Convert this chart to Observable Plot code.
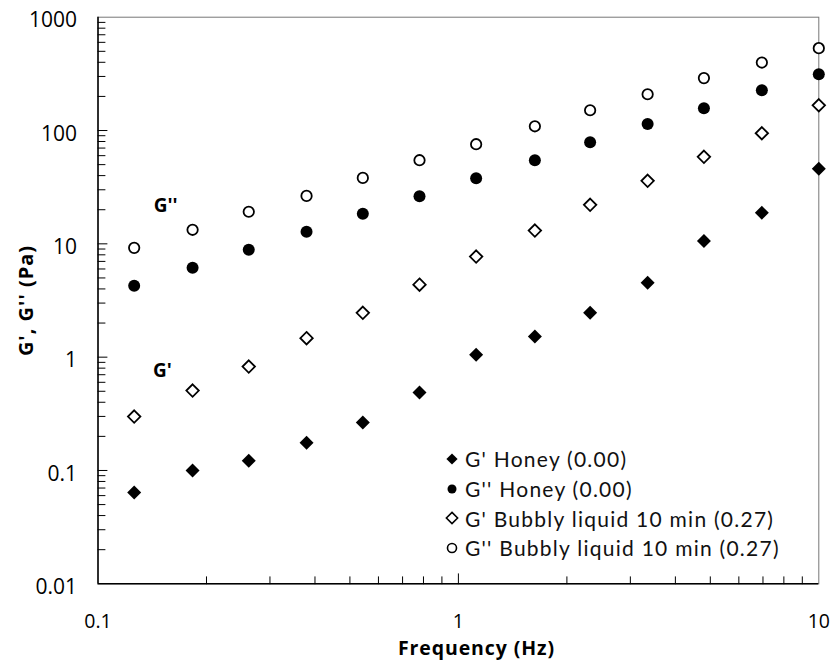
<!DOCTYPE html>
<html>
<head>
<meta charset="utf-8">
<script src="https://cdn.jsdelivr.net/npm/d3@7"></script>
<script src="https://cdn.jsdelivr.net/npm/@observablehq/plot@0.6"></script>
<style>
  html, body { margin: 0; padding: 0; background: #fff; }
  #wrap { position: relative; width: 835px; height: 663px; font-family: "Open Sans", sans-serif; }
  #wrap svg.plot { display: block; }
  #legend { position: absolute; left: 445px; top: 444px; font-family: Lato, sans-serif; font-size: 21px; color: #111; }
  #legend .row { display: flex; align-items: center; height: 29.7px; white-space: nowrap; letter-spacing: 1.25px; }
  #legend .row svg { margin-right: 6px; }
</style>
</head>
<body>
<div id="wrap"><div id="legend"></div></div>
<script>
// Frequency (Hz)
const freq = [0.126, 0.183, 0.262, 0.379, 0.543, 0.78, 1.12, 1.63, 2.32, 3.35, 4.8, 6.95, 10];
// Moduli (Pa)
const gpHoney   = [0.064, 0.1, 0.122, 0.176, 0.265, 0.487, 1.05, 1.52, 2.46, 4.53, 10.6, 18.8, 45.9];
const gppHoney  = [4.26, 6.14, 8.85, 12.8, 18.4, 26.3, 37.9, 54.7, 78.8, 114, 157, 227, 314];
const gpBubbly  = [0.299, 0.507, 0.826, 1.47, 2.46, 4.36, 7.72, 13.1, 22.1, 36.0, 58.6, 94.6, 167];
const gppBubbly = [9.22, 13.3, 19.2, 26.5, 38.2, 54.7, 75.7, 109, 151, 209, 290, 398, 533];

const seriesNames = ["G' Honey (0.00)", "G'' Honey (0.00)", "G' Bubbly liquid 10 min (0.27)", "G'' Bubbly liquid 10 min (0.27)"];
const seriesValues = [gpHoney, gppHoney, gpBubbly, gppBubbly];
const seriesSymbol = ["diamond2", "circle", "diamond2", "circle"];
const seriesFill = ["black", "black", "white", "white"];

const yTicks = [0.01, 0.1, 1, 10, 100, 1000];
const yTickLabels = ["0.01", "0.1", "1", "10", "100", "1000"];
const xTicks = [0.1, 1, 10];
const xTickLabels = ["0.1", "1", "10"];

// annotation labels
const annText = ["G''", "G'"];
const annX = [0.154, 0.151];
const annY = [21.5, 0.76];

const minor = (lo, hi) => {
  const out = [];
  for (let e = lo; e < hi; e++) for (let m = 2; m <= 9; m++) out.push(m * Math.pow(10, e));
  return out;
};
const yMinor = minor(-2, 3);
const xMinor = minor(-1, 1);
const ann = annText.map((t, i) => ({t, x: annX[i], y: annY[i]}));

// straight tick shape for vector marks
const tickShape = {draw(context, l) { context.moveTo(0, 0); context.lineTo(0, -l); }};

const font = "Open Sans, sans-serif";

const seriesMarks = seriesNames.map((name, s) => {
  const data = freq.map((f, i) => ({f, v: seriesValues[s][i]}));
  const circle = seriesSymbol[s] === "circle";
  return Plot.dot(data, {
    x: "f", y: "v",
    symbol: seriesSymbol[s],
    fill: seriesFill[s],
    stroke: "black",
    strokeWidth: s >= 2 ? 1.8 : 0,
    r: circle ? (s >= 2 ? 5.2 : 6) : (s >= 2 ? 5.6 : 6.3)
  });
});

const chart = Plot.plot({
  width: 835,
  height: 663,
  marginLeft: 97.5,
  marginRight: 16.7,
  marginTop: 16.7,
  marginBottom: 79.7,
  style: {fontFamily: font, background: "white", color: "black"},
  x: {type: "log", domain: [0.1, 10]},
  y: {type: "log", domain: [0.01, 1000]},
  marks: [
    Plot.frame({stroke: "#777", strokeWidth: 1}),
    Plot.vector(yMinor, {y: d => d, frameAnchor: "left", length: 7, rotate: 90, anchor: "start", shape: tickShape, stroke: "black", strokeWidth: 1}),
    Plot.vector(yTicks.slice(1, -1), {y: d => d, frameAnchor: "left", length: 9, rotate: 90, anchor: "start", shape: tickShape, stroke: "black", strokeWidth: 1}),
    Plot.vector(xMinor, {x: d => d, frameAnchor: "bottom", length: 7, rotate: 0, anchor: "start", shape: tickShape, stroke: "black", strokeWidth: 1}),
    Plot.vector([1], {x: d => d, frameAnchor: "bottom", length: 10, rotate: 0, anchor: "start", shape: tickShape, stroke: "black", strokeWidth: 1}),
    Plot.axisY({ticks: yTicks, tickSize: 0, tickPadding: 21, dy: 3.5, fontSize: 21, tickFormat: d => yTickLabels[yTicks.indexOf(d)], label: null}),
    Plot.axisX({ticks: xTicks, tickSize: 0, tickPadding: 30, fontSize: 19.5, tickFormat: d => xTickLabels[xTicks.indexOf(d)], label: null}),
    Plot.ruleX([0.1], {stroke: "black", strokeWidth: 1.5}),
    Plot.ruleY([0.01], {stroke: "black", strokeWidth: 1.5}),
    Plot.text(["Frequency (Hz)"], {frameAnchor: "bottom", lineAnchor: "middle", dx: 18, dy: 65, fontSize: 19.5, fontWeight: "bold"}),
    Plot.text(["G', G'' (Pa)"], {frameAnchor: "left", textAnchor: "middle", dx: -71, rotate: -90, fontSize: 20, fontWeight: "bold"}),
    Plot.text(ann, {x: "x", y: "y", text: "t", fontSize: 19, fontWeight: "bold"}),
    ...seriesMarks
  ]
});
chart.querySelectorAll("text").forEach(t => {
  if (t.textContent === "Frequency (Hz)") t.style.letterSpacing = "0.9px";
  if (t.textContent === "G', G'' (Pa)") t.style.letterSpacing = "1px";
});
const wrap = document.getElementById("wrap");
wrap.insertBefore(chart, wrap.firstChild);

// Legend (HTML overlay inside the plot area)
const legend = d3.select("#legend");
seriesNames.forEach((name, s) => {
  const row = legend.append("div").attr("class", "row");
  const sv = row.append("svg").attr("width", 14).attr("height", 14).attr("viewBox", "-7 -7 14 14");
  const isCircle = seriesSymbol[s] === "circle";
  const sym = d3.symbol(isCircle ? d3.symbolCircle : d3.symbolDiamond2, isCircle ? 64 : 80)();
  sv.append("path").attr("d", sym)
    .attr("fill", seriesFill[s])
    .attr("stroke", "black")
    .attr("stroke-width", s >= 2 ? 1.6 : 0);
  row.append("span").text(name);
});
</script>
</body>
</html>
